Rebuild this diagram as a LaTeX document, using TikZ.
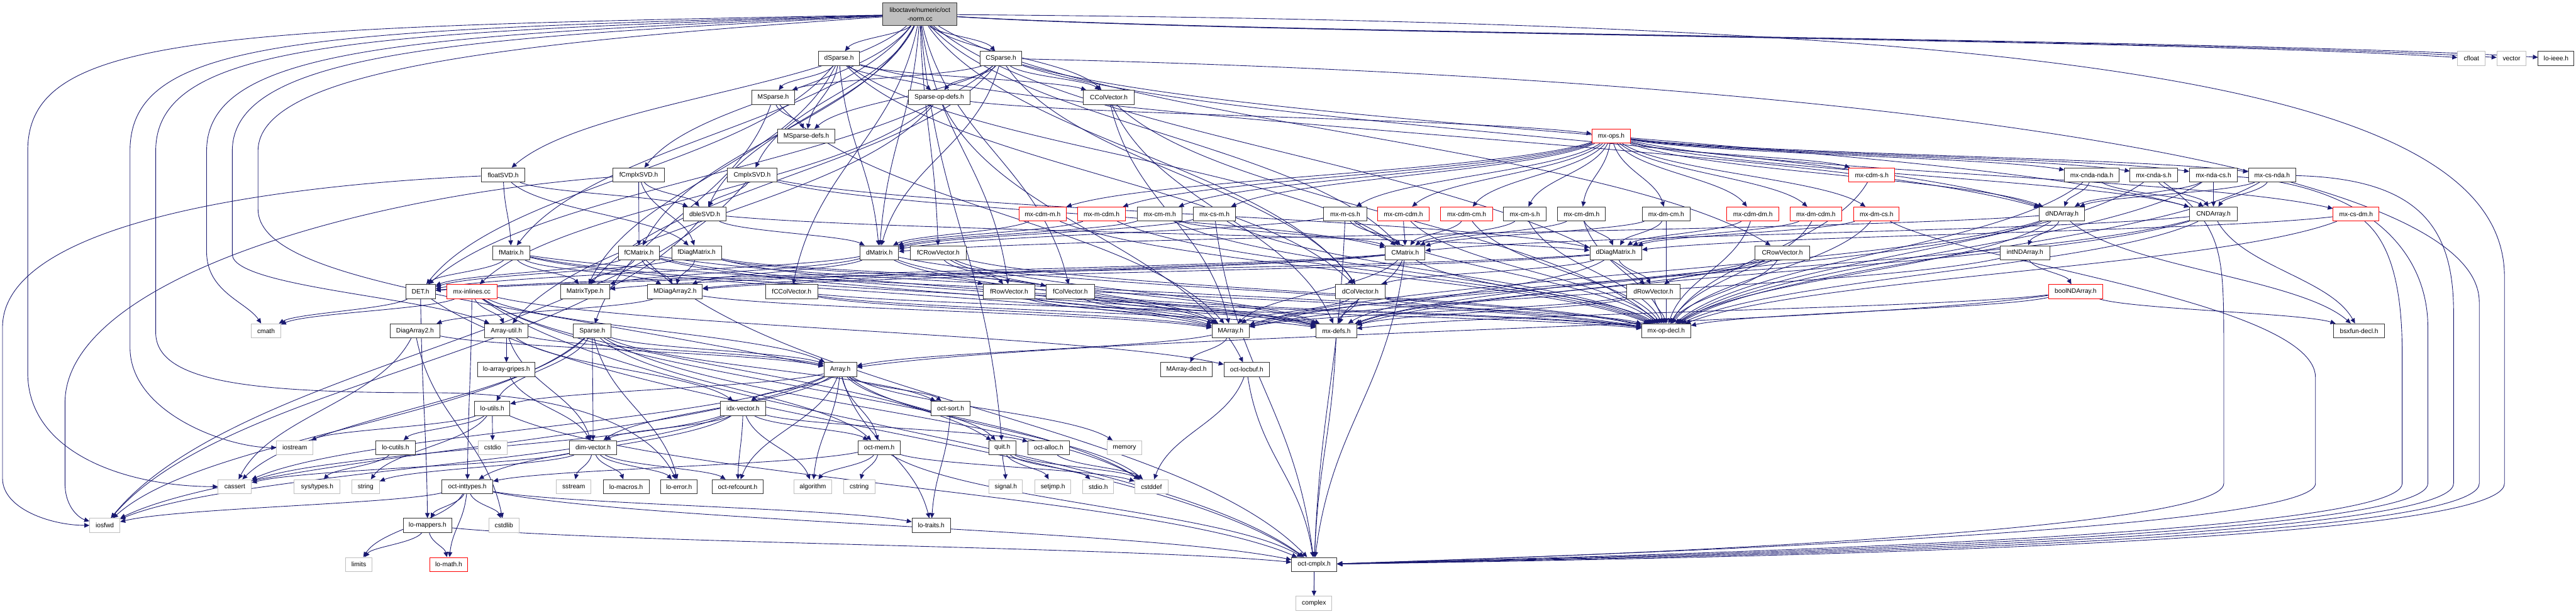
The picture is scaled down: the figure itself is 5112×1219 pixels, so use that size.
\documentclass[tikz,border=0pt]{standalone}
\usepackage{fontspec}
\setmainfont{Liberation Sans}
\usetikzlibrary{arrows.meta,calc,backgrounds}
\definecolor{edgec}{HTML}{191970}
\definecolor{grayb}{HTML}{BFBFBF}
\newcommand\nodefont{\fontsize{6.4}{8.6}\selectfont}
\tikzset{
 nb/.style={draw=black!80, fill=white, line width=0.6pt, minimum height=14pt, inner xsep=2pt, inner ysep=0pt, font=\nodefont, minimum width=#1*0.5pt},
 nr/.style={nb=#1, draw=red},
 ng/.style={nb=#1, draw=grayb},
 gv/.style={to path={.. controls ($(\tikztostart)+0.2*(\tikztotarget)-0.2*(\tikztostart)+0.25*(\tikztostart|-\tikztotarget)-0.25*(\tikztostart)$) and ($(\tikztotarget)+0.2*(\tikztostart)-0.2*(\tikztotarget)+0.25*(\tikztotarget|-\tikztostart)-0.25*(\tikztotarget)$) .. (\tikztotarget) \tikztonodes}},
 el/.style={draw=edgec, line width=0.55pt, -{Triangle[length=5pt,width=4.5pt]}},
 e/.style={el, gv},
}
\begin{document}
\begin{tikzpicture}[x=0.5pt,y=-0.5pt]
\useasboundingbox (0,0) rectangle (5112,1219);
% R0
\node[nb=147,fill=grayb,minimum height=22.5pt,align=center] (root) at (1825.5,28.5) {liboctave/numeric/oct\\-norm.cc};
% R1
\node[nb=82] (dSparse) at (1665,116) {dSparse.h};
\node[nb=83] (CSparse) at (1986.5,116) {CSparse.h};
\node[ng=55] (cfloat) at (4904.5,116) {cfloat};
\node[ng=58] (vector) at (4984,116) {vector};
\node[nb=71] (loieee) at (5072.5,116) {lo-ieee.h};
% R2
\node[nb=85] (MSparse) at (1534.5,193.5) {MSparse.h};
\node[nb=122] (Sparseopdefs) at (1864,193.5) {Sparse-op-defs.h};
\node[nb=101] (CColVector) at (2200.5,193.5) {CColVector.h};
% R3
\node[nb=114] (MSparsedefs) at (1600,270.5) {MSparse-defs.h};
\node[nr=77] (mxops) at (3197.5,270.5) {mx-ops.h};
% R4
\node[nb=87] (floatSVD) at (998.5,347.5) {floatSVD.h};
\node[nb=103] (fCmplxSVD) at (1267.5,347.5) {fCmplxSVD.h};
\node[nb=99] (CmplxSVD) at (1492.5,347.5) {CmplxSVD.h};
\node[nr=91] (mxcdms) at (3714.5,347.5) {mx-cdm-s.h};
\node[nb=108] (mxcndanda) at (4151,347.5) {mx-cnda-nda.h};
\node[nb=94] (mxcndas) at (4274,347.5) {mx-cnda-s.h};
\node[nb=95] (mxndacs) at (4392.5,347.5) {mx-nda-cs.h};
\node[nb=94] (mxcsnda) at (4509,347.5) {mx-cs-nda.h};
% R5
\node[nb=85] (dbleSVD) at (1398.5,425) {dbleSVD.h};
\node[nr=94] (mxcdmm) at (2069,425) {mx-cdm-m.h};
\node[nr=94] (mxmcdm) at (2186,425) {mx-m-cdm.h};
\node[nb=89] (mxcmm) at (2301.5,425) {mx-cm-m.h};
\node[nb=84] (mxcsm) at (2410,425) {mx-cs-m.h};
\node[nb=85] (mxmcs) at (2669.5,425) {mx-m-cs.h};
\node[nr=102] (mxcmcdm) at (2785,425) {mx-cm-cdm.h};
\node[nr=103] (mxcdmcm) at (2910.5,425) {mx-cdm-cm.h};
\node[nb=84] (mxcms) at (3026,425) {mx-cm-s.h};
\node[nb=95] (mxcmdm) at (3138.5,425) {mx-cm-dm.h};
\node[nb=95] (mxdmcm) at (3306.5,425) {mx-dm-cm.h};
\node[nr=103] (mxcdmdm) at (3478.5,425) {mx-cdm-dm.h};
\node[nr=103] (mxdmcdm) at (3603.5,425) {mx-dm-cdm.h};
\node[nr=90] (mxdmcs) at (3724,425) {mx-dm-cs.h};
\node[nb=90] (dNDArray) at (4092,425) {dNDArray.h};
\node[nb=95] (CNDArray) at (4392.5,425) {CNDArray.h};
\node[nr=91] (mxcsdm) at (4675.5,425) {mx-cs-dm.h};
% R6
\node[nb=73] (fMatrix) at (1014.5,502) {fMatrix.h};
\node[nb=82] (fCMatrix) at (1268,502) {fCMatrix.h};
\node[nb=99] (fDiagMatrix) at (1382.5,502) {fDiagMatrix.h};
\node[nb=76] (dMatrix) at (1745,502) {dMatrix.h};
\node[nb=112] (fCRowVector) at (1862,502) {fCRowVector.h};
\node[nb=79] (CMatrix) at (2788.5,502) {CMatrix.h};
\node[nb=103] (dDiagMatrix) at (3206.5,502) {dDiagMatrix.h};
\node[nb=108] (CRowVector) at (3537,502) {CRowVector.h};
\node[nb=99] (intNDArray) at (4018.5,502) {intNDArray.h};
% R7
\node[nb=59] (DET) at (834.5,579) {DET.h};
\node[nr=99] (mxinlines) at (936.5,579) {mx-inlines.cc};
\node[nb=98] (MatrixType) at (1161,579) {MatrixType.h};
\node[nb=109] (MDiagArray2) at (1339.5,579) {MDiagArray2.h};
\node[nb=104] (fCColVector) at (1571,579) {fCColVector.h};
\node[nb=103] (fRowVector) at (2002.5,579) {fRowVector.h};
\node[nb=96] (fColVector) at (2124,579) {fColVector.h};
\node[nb=99] (dColVector) at (2699.5,579) {dColVector.h};
\node[nb=106] (dRowVector) at (3281,579) {dRowVector.h};
\node[nr=108] (boolNDArray) at (4119,579) {boolNDArray.h};
% R8
\node[ng=58] (cmath) at (528,657) {cmath};
\node[nb=99] (DiagArray2) at (823.5,657) {DiagArray2.h};
\node[nb=86] (Arrayutil) at (1005,657) {Array-util.h};
\node[nb=75] (Sparse) at (1175.5,657) {Sparse.h};
\node[nb=74] (MArray) at (2442,657) {MArray.h};
\node[nb=80] (mxdefs) at (2652,657) {mx-defs.h};
\node[nb=97] (mxopdecl) at (3306.5,657) {mx-op-decl.h};
\node[nb=101] (bsxfundecl) at (4681.5,657) {bsxfun-decl.h};
% R9
\node[nb=114] (loarraygripes) at (1005,734) {lo-array-gripes.h};
\node[nb=65] (Array) at (1667.5,734) {Array.h};
\node[nb=103] (MArraydecl) at (2354.5,734) {MArray-decl.h};
\node[nb=90] (octlocbuf) at (2474,734) {oct-locbuf.h};
% R10
\node[nb=70] (loutils) at (977,811) {lo-utils.h};
\node[nb=89] (idxvector) at (1474.5,811) {idx-vector.h};
\node[nb=77] (octsort) at (1886.5,811) {oct-sort.h};
% R11
\node[ng=72] (iostream) at (585,889) {iostream};
\node[nb=78] (locutils) at (785,889) {lo-cutils.h};
\node[ng=57] (cstdio) at (977.5,889) {cstdio};
\node[nb=94] (dimvector) at (1177,889) {dim-vector.h};
\node[nb=84] (octmem) at (1745,889) {oct-mem.h};
\node[nb=54] (quit) at (1989,889) {quit.h};
\node[nb=82] (octalloc) at (2081,889) {oct-alloc.h};
\node[ng=69] (memory) at (2231.5,889) {memory};
% R12
\node[ng=66] (cassert) at (466,966.5) {cassert};
\node[ng=91] (systypes) at (629.5,966.5) {sys/types.h};
\node[ng=55] (string) at (725.5,966.5) {string};
\node[nb=101] (octinttypes) at (927.5,966.5) {oct-inttypes.h};
\node[ng=69] (sstream) at (1138.5,966.5) {sstream};
\node[nb=91] (lomacros) at (1242.5,966.5) {lo-macros.h};
\node[nb=73] (loerror) at (1347.5,966.5) {lo-error.h};
\node[nb=102] (octrefcount) at (1464,966.5) {oct-refcount.h};
\node[ng=74] (algorithm) at (1613,966.5) {algorithm};
\node[ng=62] (cstring) at (1705,966.5) {cstring};
\node[ng=66] (signalh) at (1996,966.5) {signal.h};
\node[ng=71] (setjmph) at (2089.5,966.5) {setjmp.h};
\node[ng=61] (stdioh) at (2179.5,966.5) {stdio.h};
\node[ng=66] (cstddef) at (2285,966.5) {cstddef};
% R13
\node[ng=60] (iosfwd) at (208,1043.5) {iosfwd};
\node[nb=97] (lomappers) at (848.5,1043.5) {lo-mappers.h};
\node[ng=60] (cstdlib) at (1000,1043.5) {cstdlib};
\node[nb=76] (lotraits) at (1848,1043.5) {lo-traits.h};
% R14
\node[ng=52] (limits) at (712,1121) {limits};
\node[nr=75] (lomath) at (890.5,1121) {lo-math.h};
\node[nb=90] (octcmplx) at (2608,1121) {oct-cmplx.h};
% R15
\node[ng=71] (complex) at (2607.5,1198) {complex};

\begin{scope}[on background layer]
\fill[white] (0,0) rectangle (5112,1219);
% long routed connectors
\draw[el] (root) .. controls (400,55) and (55,70) .. (55,300) -- (55,740) .. controls (55,900) and (250,966) .. (cassert);
\draw[el] (root) .. controls (600,60) and (258,75) .. (258,300) -- (258,690) .. controls (258,820) and (450,889) .. (iostream);
\draw[el] (root) .. controls (700,65) and (309,85) .. (309,300) -- (309,660) .. controls (309,760) and (500,780) .. (860,780) .. controls (1150,780) and (1300,860) .. (loerror);
\draw[el] (root) .. controls (800,70) and (410,95) .. (410,300) -- (410,500) .. controls (410,580) and (490,600) .. (cmath);
\draw[el] (root) .. controls (900,75) and (461,105) .. (461,300) -- (461,505) .. controls (461,570) and (850,590) .. (Arrayutil);
\draw[el] (root) .. controls (1000,85) and (512,140) .. (512,300) -- (512,415) .. controls (512,560) and (1000,600) .. (Array);
\draw[el] (floatSVD) .. controls (500,370) and (5,450) .. (5,650) -- (5,950) .. controls (5,1010) and (100,1043) .. (iosfwd);
\draw[el] (fCmplxSVD) .. controls (700,390) and (129,560) .. (129,800) -- (129,960) .. controls (129,1010) and (160,1030) .. (iosfwd);
\draw[el] (root) .. controls (4000,45) and (4970,150) .. (4970,550) -- (4970,960) .. controls (4970,1085) and (3300,1110) .. (octcmplx);
\draw[el] (CSparse) .. controls (3500,150) and (4920,300) .. (4920,600) -- (4920,960) .. controls (4920,1080) and (3300,1108) .. (octcmplx);
\draw[el] (mxcsnda) .. controls (4800,355) and (4869,450) .. (4869,620) -- (4869,960) .. controls (4869,1075) and (3300,1106) .. (octcmplx);
\draw[el] (mxndacs) .. controls (4700,370) and (4818,500) .. (4818,650) -- (4818,960) .. controls (4818,1070) and (3300,1104) .. (octcmplx);
\draw[el] (mxcsdm) .. controls (4740,480) and (4767,560) .. (4767,700) -- (4767,960) .. controls (4767,1065) and (3300,1102) .. (octcmplx);
\draw[el] (mxcndas) .. controls (4413,450) and (4413,500) .. (4413,700) -- (4413,960) .. controls (4413,1050) and (3300,1100) .. (octcmplx);
\draw[el] (mxdmcs) .. controls (3900,520) and (4595,600) .. (4595,750) -- (4595,960) .. controls (4595,1050) and (3300,1098) .. (octcmplx);
\foreach \a/\b in {
root/cfloat, root/vector, root/loieee, root/CMatrix, root/dMatrix, root/fCMatrix, root/fMatrix, root/CColVector, root/dColVector, root/CRowVector, root/dRowVector, root/fCColVector, root/fColVector, root/fCRowVector, root/fRowVector, root/CSparse, root/dSparse, root/dbleSVD, root/CmplxSVD, root/floatSVD, root/fCmplxSVD, root/quit,
dSparse/dMatrix, dSparse/dNDArray, dSparse/CMatrix, dSparse/dColVector, dSparse/CColVector, dSparse/DET, dSparse/MSparse, dSparse/MSparsedefs, dSparse/Sparseopdefs, dSparse/MatrixType,
CSparse/dMatrix, CSparse/dNDArray, CSparse/CNDArray, CSparse/dColVector, CSparse/CColVector, CSparse/DET, CSparse/MSparse, CSparse/MSparsedefs, CSparse/Sparseopdefs, CSparse/MatrixType,
MSparse/MArray, MSparse/Sparse, MSparse/MSparsedefs,
Sparseopdefs/Arrayutil, Sparseopdefs/mxops, Sparseopdefs/octlocbuf, Sparseopdefs/mxinlines,
CColVector/MArray, CColVector/mxdefs, CColVector/mxopdecl,
mxops/mxcdmm, mxops/mxmcdm, mxops/mxcmm, mxops/mxcsm, mxops/mxmcs, mxops/mxcmcdm, mxops/mxcdmcm, mxops/mxcms, mxops/mxcmdm, mxops/mxdmcm, mxops/mxcdms, mxops/mxcdmdm, mxops/mxdmcdm, mxops/mxdmcs, mxops/mxcndanda, mxops/mxcndas, mxops/mxndacs, mxops/mxcsnda, mxops/mxcsdm, mxops/dNDArray, mxops/CNDArray,
floatSVD/fDiagMatrix, floatSVD/fMatrix, floatSVD/dbleSVD,
fCmplxSVD/fDiagMatrix, fCmplxSVD/fCMatrix, fCmplxSVD/dbleSVD,
CmplxSVD/iosfwd, CmplxSVD/dDiagMatrix, CmplxSVD/CMatrix, CmplxSVD/dbleSVD,
dbleSVD/iosfwd, dbleSVD/dDiagMatrix, dbleSVD/dMatrix,
mxcdms/mxopdecl,
mxcndanda/CNDArray, mxcndanda/dNDArray, mxcndanda/mxopdecl,
mxcndas/CNDArray, mxcndas/mxopdecl,
mxndacs/dNDArray, mxndacs/CNDArray, mxndacs/mxopdecl,
mxcsnda/CNDArray, mxcsnda/dNDArray, mxcsnda/mxopdecl,
mxcdmm/dMatrix, mxcdmm/mxopdecl,
mxmcdm/dMatrix, mxmcdm/mxopdecl,
mxcmm/CMatrix, mxcmm/dMatrix, mxcmm/mxopdecl,
mxcsm/dMatrix, mxcsm/octcmplx, mxcsm/mxopdecl,
mxmcs/dMatrix, mxmcs/CMatrix, mxmcs/octcmplx, mxmcs/mxopdecl,
mxcmcdm/CMatrix, mxcmcdm/mxopdecl,
mxcdmcm/CMatrix, mxcdmcm/mxopdecl,
mxcms/CMatrix, mxcms/mxopdecl,
mxcmdm/CMatrix, mxcmdm/dDiagMatrix, mxcmdm/mxopdecl,
mxdmcm/dDiagMatrix, mxdmcm/CMatrix, mxdmcm/mxopdecl,
mxcdmdm/dDiagMatrix, mxcdmdm/mxopdecl,
mxdmcdm/dDiagMatrix, mxdmcdm/mxopdecl,
mxdmcs/dDiagMatrix, mxdmcs/mxopdecl,
mxcsdm/dDiagMatrix, mxcsdm/mxopdecl,
dNDArray/MArray, dNDArray/intNDArray, dNDArray/mxdefs, dNDArray/mxopdecl, dNDArray/bsxfundecl, dNDArray/dMatrix,
CNDArray/MArray, CNDArray/mxdefs, CNDArray/mxopdecl, CNDArray/bsxfundecl, CNDArray/CMatrix,
intNDArray/MArray, intNDArray/boolNDArray,
boolNDArray/mxdefs, boolNDArray/mxopdecl, boolNDArray/bsxfundecl, boolNDArray/Array,
fMatrix/MArray, fMatrix/MDiagArray2, fMatrix/MatrixType, fMatrix/mxdefs, fMatrix/mxopdecl, fMatrix/DET,
fCMatrix/MArray, fCMatrix/MDiagArray2, fCMatrix/MatrixType, fCMatrix/mxdefs, fCMatrix/mxopdecl, fCMatrix/octcmplx, fCMatrix/DET,
fDiagMatrix/MDiagArray2, fDiagMatrix/fRowVector, fDiagMatrix/fColVector, fDiagMatrix/DET, fDiagMatrix/mxdefs,
dMatrix/MArray, dMatrix/MDiagArray2, dMatrix/MatrixType, dMatrix/mxdefs, dMatrix/mxopdecl, dMatrix/DET,
fCRowVector/MArray, fCRowVector/fRowVector, fCRowVector/mxdefs, fCRowVector/mxopdecl,
CMatrix/MArray, CMatrix/MDiagArray2, CMatrix/MatrixType, CMatrix/mxdefs, CMatrix/mxopdecl, CMatrix/octcmplx, CMatrix/DET,
dDiagMatrix/MDiagArray2, dDiagMatrix/dRowVector, dDiagMatrix/dColVector, dDiagMatrix/DET, dDiagMatrix/mxdefs,
CRowVector/MArray, CRowVector/dRowVector, CRowVector/mxdefs, CRowVector/mxopdecl,
DET/cmath, DET/octcmplx, DET/lomappers,
mxinlines/cstddef, mxinlines/cmath, mxinlines/quit, mxinlines/octcmplx, mxinlines/octlocbuf, mxinlines/octinttypes, mxinlines/Array, mxinlines/Arrayutil,
MDiagArray2/DiagArray2, MDiagArray2/MArray,
fCColVector/MArray, fCColVector/mxdefs, fCColVector/mxopdecl,
fRowVector/MArray, fRowVector/mxdefs, fRowVector/mxopdecl,
fColVector/MArray, fColVector/mxdefs, fColVector/mxopdecl,
dColVector/MArray, dColVector/mxdefs, dColVector/mxopdecl,
dRowVector/MArray, dRowVector/mxdefs, dRowVector/mxopdecl,
DiagArray2/cassert, DiagArray2/cstdlib, DiagArray2/Array,
Arrayutil/Array, Arrayutil/dimvector, Arrayutil/idxvector, Arrayutil/loarraygripes,
Sparse/cassert, Sparse/cstddef, Sparse/iosfwd, Sparse/Array, Sparse/dimvector, Sparse/loerror, Sparse/loutils, Sparse/octsort, Sparse/octmem,
MArray/Array, MArray/MArraydecl,
mxdefs/octcmplx,
loarraygripes/dimvector,
Array/cassert, Array/cstddef, Array/algorithm, Array/iosfwd, Array/dimvector, Array/idxvector, Array/lotraits, Array/loutils, Array/octsort, Array/quit, Array/octmem, Array/octrefcount, Array/memory,
octlocbuf/cstddef, octlocbuf/octcmplx,
loutils/cstdio, loutils/iostream, loutils/string, loutils/octcmplx, loutils/locutils,
idxvector/cassert, idxvector/algorithm, idxvector/iosfwd, idxvector/dimvector, idxvector/octinttypes, idxvector/octalloc, idxvector/octmem, idxvector/octrefcount,
octsort/lotraits,
locutils/systypes,
dimvector/cassert, dimvector/sstream, dimvector/string, dimvector/loerror, dimvector/lomacros, dimvector/octrefcount,
octmem/cstddef, octmem/cstring, octmem/algorithm, octmem/octcmplx, octmem/octinttypes,
quit/signalh, quit/setjmph, quit/stdioh, quit/cstddef,
octalloc/cstddef,
octinttypes/cstdlib, octinttypes/limits, octinttypes/iosfwd, octinttypes/lotraits, octinttypes/lomath, octinttypes/octcmplx, octinttypes/lomappers,
lomappers/limits, lomappers/octcmplx, lomappers/lomath,
octcmplx/complex}
  \draw[e] (\a) to (\b);
\end{scope}
\end{tikzpicture}
\end{document}
